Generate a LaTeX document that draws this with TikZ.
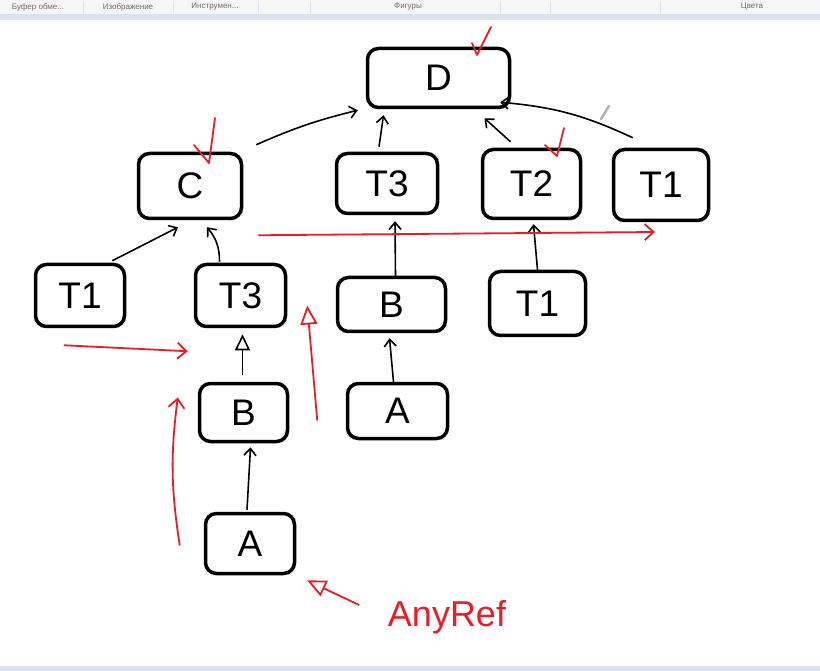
\documentclass[tikz,border=0pt]{standalone}
\usepackage{fontspec}
\setmainfont{Liberation Sans}
\usepackage{tikz}
\usetikzlibrary{arrows.meta, positioning}
\definecolor{inkred}{RGB}{237, 28, 36}
\definecolor{barbg}{RGB}{245, 246, 248}
\definecolor{bartext}{RGB}{110, 110, 110}
\definecolor{barline}{RGB}{218, 226, 238}
\newcommand{\boxfont}{\fontsize{37}{37}\selectfont}

\begin{document}
\begin{tikzpicture}[x=1pt, y=-1pt, >={Straight Barb[length=7pt, width=12pt]},
    box/.style 2 args={draw, line width=3.5pt, rounded corners=11pt, minimum width=#1, minimum height=#2, font=\boxfont},
    arr/.style={->, line width=1.6pt},
    tri/.style={-{Triangle[open, length=16pt, width=15pt]}, line width=1.6pt},
    redarr/.style={-{Straight Barb[length=9pt, width=16pt]}, inkred, line width=1.8pt},
    redtri/.style={-{Triangle[open, length=19pt, width=17pt]}, inkred, line width=1.8pt},
    check/.style={inkred, line width=1.8pt, line cap=round, line join=round},
    barlabel/.style={text=bartext, font=\fontsize{8}{8}\selectfont}]
        % window frame
        \useasboundingbox (0,0) rectangle (820,671);
        \fill[barbg] (0,0) rectangle (820,14);
        \fill[barline] (0,14) rectangle (820,20);
        \fill[barline] (0,666) rectangle (820,671);
        \foreach \sx in {83,173,258,310,500,550,660} {
            \draw[barline, line width=1pt] (\sx,1) -- (\sx,13);
        }
        \node[barlabel] (tbclip) at (38,7) {Буфер обме...};
        \node[barlabel] (tbimage) at (128,7) {Изображение};
        \node[barlabel] (tbtools) at (215,7) {Инструмен...};
        \node[barlabel] (tbshapes) at (408,7) {Фигуры};
        \node[barlabel] (tbcolors) at (752,7) {Цвета};

        % boxes
        \node[box={142pt}{59pt}] (d) at (438.5,78) {D};
        \node[box={103pt}{65pt}] (c) at (190,186) {C};
        \node[box={101pt}{60pt}] (t3) at (387,183.5) {T3};
        \node[box={98pt}{69pt}] (t2) at (531.5,184) {T2};
        \node[box={95pt}{71pt}] (t1r) at (661,185) {T1};
        \node[box={89pt}{62pt}] (t1l) at (80,295.5) {T1};
        \node[box={90pt}{62pt}] (t3b) at (240.5,295.5) {T3};
        \node[box={108pt}{54pt}] (b1) at (391.5,304.5) {B};
        \node[box={96pt}{64pt}] (t1b) at (537.5,303.5) {T1};
        \node[box={88pt}{58pt}] (b2) at (243.5,412.5) {B};
        \node[box={100pt}{55pt}] (a1) at (397.5,411) {A};
        \node[box={89pt}{60pt}] (a2) at (250,543.5) {A};

        % black arrows
        \draw[arr] ([xshift=13pt,yshift=7pt]c.north east) to[bend left=5] ([xshift=-8pt,yshift=-1pt]d.south west);
        \draw[arr] ([xshift=-8pt,yshift=5pt]t3.north) -- ([xshift=-55pt,yshift=-6pt]d.south);
        \draw[arr] ([xshift=-21pt,yshift=6pt]t2.north) -- ([xshift=46pt,yshift=-9pt]d.south);
        \draw[arr] ([xshift=21pt,yshift=10pt]t1r.north west) to[bend right=10] ([xshift=-11pt,yshift=7pt]d.south east);
        \draw[arr] ([xshift=-14pt,yshift=2pt]t1l.north east) -- ([xshift=-12pt,yshift=-7pt]c.south);
        \draw[arr] ([xshift=-21pt,yshift=1pt]t3b.north) to[bend right=20] ([xshift=17pt,yshift=-7pt]c.south);
        \draw[arr] ([xshift=4pt]b1.north) -- ([xshift=8pt,yshift=-6pt]t3.south);
        \draw[arr] (t1b.north) -- ([xshift=2pt,yshift=-4pt]t2.south);
        \draw[tri] ([xshift=-1pt,yshift=7pt]b2.north) -- ([xshift=2pt,yshift=-6pt]t3b.south);
        \draw[arr] ([xshift=-3pt,yshift=2pt]a2.north) -- ([xshift=7pt,yshift=-4pt]b2.south);
        \draw[arr] ([xshift=-4pt]a1.north) -- ([xshift=-2pt,yshift=-5pt]b1.south);

        % red marks
        \coordinate (redend) at (655,232);
        \draw[redarr] ([xshift=15pt,yshift=-15pt]c.south east) -- (redend);
        \draw[redarr] ([xshift=30pt,yshift=-17pt]t1l.south west) -- ([xshift=-6pt,yshift=-23pt]t3b.south west);
        \draw[redarr] ([xshift=-24pt,yshift=-2pt]a2.west) to[bend left=8] ([xshift=-20pt,yshift=15pt]b2.west);
        \draw[redtri] ([xshift=28pt,yshift=-8pt]b2.east) -- ([xshift=20pt,yshift=-10pt]t3b.east);
        \node[inkred, font=\fontsize{36}{36}\selectfont] (anyref) at (447,617) {AnyRef};
        \draw[redtri, shorten <=28pt, shorten >=12pt] (anyref.west) -- (a2.south east);
        \draw[check] (472,43) -- (477,55) -- (491,27);
        \draw[check] (194,145) -- (209,163) -- (215,118);
        \draw[check] (545,145) -- (557,156) -- (564,128);

        % pencil cursor
        \draw[gray!60, line width=2.5pt, line cap=round] (601,119) -- (609,106);
    \end{tikzpicture}
\end{document}
